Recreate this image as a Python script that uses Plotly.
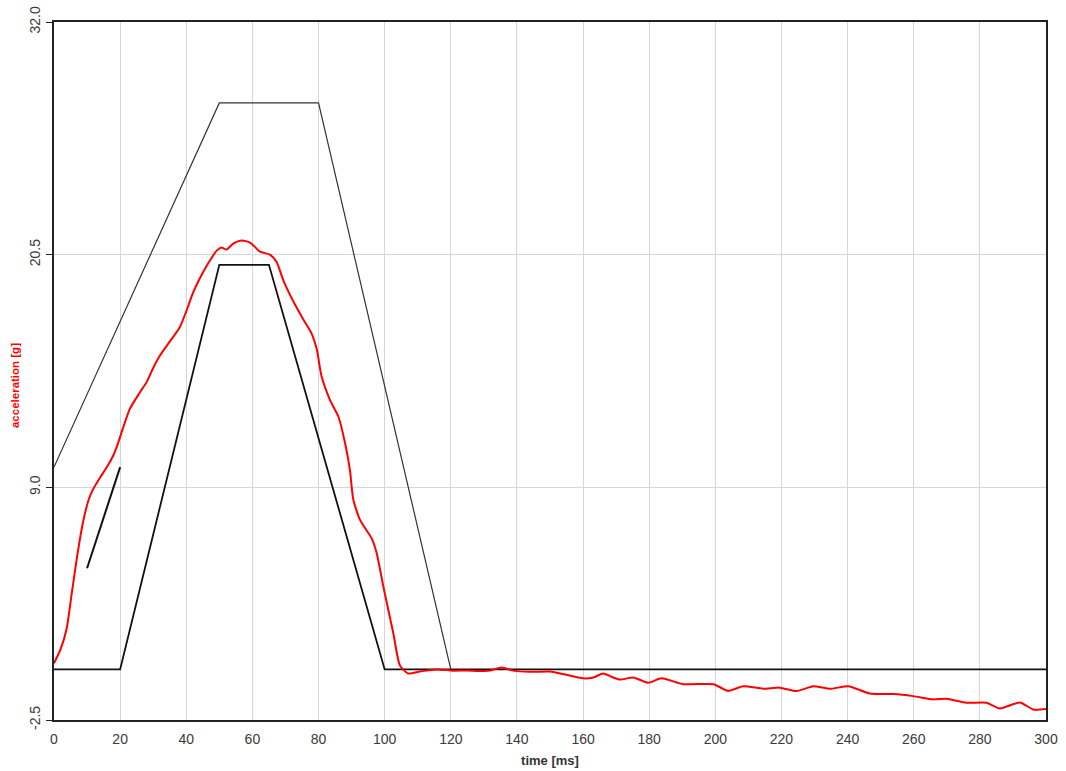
import plotly.graph_objects as go

# Measured acceleration (red)
acc_t = [0, 2, 3.8, 5.4, 7, 8.8, 10.5, 11.8, 14, 16, 18, 19.4, 21, 23, 26, 28, 30, 32, 35, 38, 40,
         42, 44, 46, 47.5, 49.2, 50.7, 52.2, 54.2, 56.7, 59.3, 62.3, 65.3, 67.3, 69.3, 71.4, 73,
         75.4, 77.9, 79.5, 80.9, 83.5, 86, 88, 89.5, 90.5, 92.5, 94, 96, 97.5, 99.6, 102.6, 104.6,
         107.1, 110.7, 115.7, 120.7, 125, 128.8, 131.8, 135.4, 138.9, 143.9, 150, 154, 160, 163.1,
         166.1, 169.1, 171.2, 175.2, 179.7, 183.7, 190.3, 199.4, 203.9, 208.4, 214.5, 219.5, 224.6,
         229.6, 234.7, 240.2, 246.7, 253.8, 259.8, 265.9, 269.9, 275.9, 282, 286, 292.1, 296.1, 300]
acc_g = [0.3, 1.0, 2.0, 3.8, 5.6, 7.3, 8.4, 8.9, 9.5, 10.0, 10.6, 11.2, 12.0, 12.9, 13.7, 14.2, 14.9,
         15.5, 16.2, 16.9, 17.7, 18.6, 19.3, 19.9, 20.3, 20.7, 20.85, 20.75, 21.05, 21.2, 21.1, 20.65,
         20.5, 20.15, 19.25, 18.5, 18.0, 17.3, 16.6, 15.8, 14.5, 13.3, 12.5, 11.2, 9.85, 8.4, 7.4,
         7.0, 6.5, 5.8, 4.1, 1.8, 0.2, -0.2, -0.1, 0.0, -0.06, -0.05, -0.08, -0.06, 0.1, -0.06,
         -0.12, -0.1, -0.23, -0.44, -0.4, -0.2, -0.4, -0.5, -0.4, -0.66, -0.44, -0.73, -0.73, -1.06,
         -0.83, -0.95, -0.9, -1.07, -0.83, -0.96, -0.83, -1.19, -1.22, -1.32, -1.48, -1.45, -1.65,
         -1.65, -1.93, -1.63, -1.98, -1.95]

# Upper corridor (thin)
upper_t = [0, 50, 80, 120]
upper_g = [10, 28, 28, 0]

# Lower corridor (black)
lower_t = [0, 20, 50, 65, 100, 300]
lower_g = [0, 0, 20, 20, 0, 0]

# Short segment
seg_t = [10, 20]
seg_g = [5, 10]

y_ticks = [-2.5, 9.0, 20.5, 32.0]
x_ticks = list(range(0, 301, 20))

fig = go.Figure()
fig.add_trace(go.Scatter(x=upper_t, y=upper_g, mode="lines",
                         line=dict(color="#333333", width=1.2), hoverinfo="skip"))
fig.add_trace(go.Scatter(x=lower_t, y=lower_g, mode="lines",
                         line=dict(color="#111111", width=1.8), hoverinfo="skip"))
fig.add_trace(go.Scatter(x=seg_t, y=seg_g, mode="lines",
                         line=dict(color="#111111", width=2), hoverinfo="skip"))
fig.add_trace(go.Scatter(x=acc_t, y=acc_g, mode="lines",
                         line=dict(color="#ff0000", width=2, shape="spline", smoothing=0.6)))

fig.add_annotation(text="<b>acceleration [g]</b>", xref="paper", yref="paper",
                   x=-0.0393, y=0.4785, textangle=-90, showarrow=False,
                   font=dict(size=11.5, color="#ff0000"), xanchor="center", yanchor="middle")

fig.update_layout(
    width=1066, height=771,
    margin=dict(l=54, r=20, t=22, b=51),
    paper_bgcolor="white", plot_bgcolor="white",
    showlegend=False,
    font=dict(family="Liberation Sans, Arial, sans-serif", size=14, color="#3a3a3a"),
    xaxis=dict(
        range=[0, 300], tickvals=x_ticks, ticks="", automargin=False,
        ticklabelstandoff=5,
        showgrid=True, gridcolor="#d6d6d6", gridwidth=1,
        showline=True, linecolor="#222222", linewidth=2, mirror=True,
        zeroline=False,
        title=dict(text="<b>time [ms]</b>", font=dict(size=13, color="#333333"), standoff=10),
    ),
    yaxis=dict(
        range=[-2.5, 32], tickvals=y_ticks, ticktext=[f"{v:.1f}" for v in y_ticks],
        tickangle=-90, ticks="outside", ticklen=6, tickcolor="#222222", tickwidth=1,
        automargin=False,
        showgrid=True, gridcolor="#d6d6d6", gridwidth=1,
        showline=True, linecolor="#222222", linewidth=2, mirror=True,
        zeroline=False,
    ),
)

fig.write_html("out.html")
